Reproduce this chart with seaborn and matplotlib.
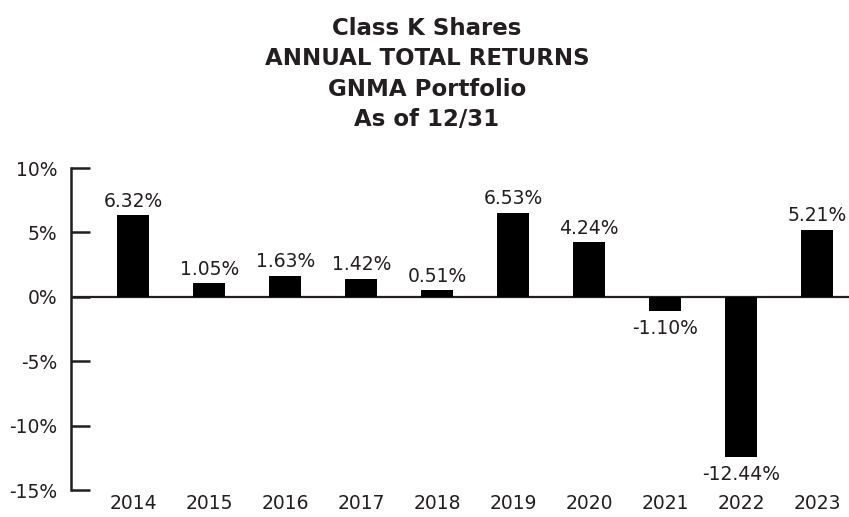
import matplotlib
matplotlib.use("Agg")
import matplotlib.pyplot as plt
import seaborn as sns

years = ["2014", "2015", "2016", "2017", "2018", "2019", "2020", "2021", "2022", "2023"]
returns = [6.32, 1.05, 1.63, 1.42, 0.51, 6.53, 4.24, -1.10, -12.44, 5.21]
yticks = [10, 5, 0, -5, -10, -15]
title_lines = ["Class K Shares", "ANNUAL TOTAL RETURNS", "GNMA Portfolio", "As of 12/31"]

sns.set_style("white")
plt.rcParams["font.family"] = ["DejaVu Sans"]
ink = "#231f20"

fig = plt.figure(figsize=(8.49, 5.17), dpi=100)
ax = fig.add_axes([0.0836, 0.0522, 0.9164, 0.6228])

sns.barplot(x=years, y=returns, color="black", width=0.42, saturation=1,
            edgecolor="black", linewidth=0, ax=ax)

ax.axhline(0, color=ink, lw=1.6, zorder=0)
ax.set_xlim(-0.82, 9.42)
ax.set_ylim(-15, 10)
ax.set_yticks(yticks)
ax.set_yticklabels([f"{t}%" for t in yticks])

for sp in ["top", "right", "bottom"]:
    ax.spines[sp].set_visible(False)
ax.spines["left"].set_color(ink)
ax.spines["left"].set_linewidth(1.8)

ax.tick_params(axis="y", left=True, direction="in", length=13.7, width=1.8, color=ink,
               labelsize=13.5, labelcolor=ink, pad=10)
ax.tick_params(axis="x", bottom=False, length=0, labelsize=13.5, labelcolor=ink, pad=3)

# value labels
for i, v in enumerate(returns):
    if v >= 0:
        ax.annotate(f"{v:.2f}%", (i, v), xytext=(0, 6), textcoords="offset points",
                    ha="center", va="baseline", fontsize=13.5, color=ink)
    else:
        ax.annotate(f"{v:.2f}%", (i, v), xytext=(0, -6), textcoords="offset points",
                    ha="center", va="top", fontsize=13.5, color=ink)

fig.text(0.503, 0.968, "\n".join(title_lines), ha="center", va="top",
         fontsize=16.5, fontweight="bold", color=ink, linespacing=1.42)

fig.savefig("out.png", dpi=100)
